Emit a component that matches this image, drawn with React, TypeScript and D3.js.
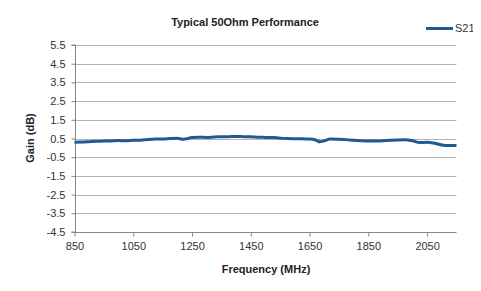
import { useEffect, useRef } from 'react';
import * as d3 from 'd3';

const freqs = [
  850, 875, 900, 925, 950, 975, 1000, 1025, 1050, 1075, 1100, 1125, 1150, 1175, 1200, 1220, 1250, 1275,
  1300, 1325, 1350, 1375, 1400, 1425, 1450, 1475, 1500, 1525, 1550, 1575, 1600, 1625, 1650, 1670, 1685,
  1700, 1720, 1750, 1775, 1800, 1825, 1850, 1875, 1900, 1925, 1950, 1975, 2000, 2025, 2050, 2075, 2100,
  2125, 2150,
];
const gains = [
  0.3, 0.31, 0.33, 0.35, 0.36, 0.37, 0.39, 0.38, 0.4, 0.41, 0.45, 0.47, 0.47, 0.5, 0.52, 0.46, 0.55, 0.57,
  0.56, 0.58, 0.59, 0.6, 0.61, 0.6, 0.59, 0.57, 0.56, 0.55, 0.52, 0.5, 0.49, 0.48, 0.47, 0.42, 0.32, 0.38,
  0.47, 0.46, 0.44, 0.4, 0.38, 0.37, 0.36, 0.38, 0.4, 0.42, 0.43, 0.38, 0.28, 0.3, 0.25, 0.15, 0.12, 0.12,
];
const xTicks = [850, 1050, 1250, 1450, 1650, 1850, 2050];
const yTicks = [5.5, 4.5, 3.5, 2.5, 1.5, 0.5, -0.5, -1.5, -2.5, -3.5, -4.5];
const seriesName = 'S21';

const App = () => {
  const ref = useRef<SVGSVGElement>(null);

  useEffect(() => {
    if (!ref.current) return;
    const svg = d3.select(ref.current);
    svg.selectAll('*').remove();

    const left = 74.5;
    const right = 456.5;
    const top = 45;
    const bottom = 232;
    const font = "'Liberation Sans', Arial, sans-serif";

    const x = d3.scaleLinear().domain([850, 2150]).range([left, right]);
    const y = d3.scaleLinear().domain([-4.5, 5.5]).range([bottom, top]);

    // outer border (right edge runs off the picture)
    svg
      .append('rect')
      .attr('x', 5.5)
      .attr('y', 4.5)
      .attr('width', 490)
      .attr('height', 285)
      .attr('fill', '#fff')
      .attr('stroke', '#d0d0d0');

    // gridlines
    svg
      .append('g')
      .selectAll('line')
      .data(yTicks.filter((d) => d !== -4.5))
      .join('line')
      .attr('x1', left)
      .attr('x2', right)
      .attr('y1', (d) => Math.round(y(d)) + 0.5)
      .attr('y2', (d) => Math.round(y(d)) + 0.5)
      .attr('stroke', '#b3b3b3');

    // y axis
    const yAxis = d3
      .axisLeft(y)
      .tickValues(yTicks)
      .tickSize(4)
      .tickPadding(6)
      .tickFormat((d) => String(d));
    const gy = svg.append('g').attr('transform', `translate(${Math.round(left) + 0.5},0)`).call(yAxis);
    gy.select('.domain').attr('stroke', '#868686').attr('d', `M-4,${y(-4.5)}H0V${y(5.5)}H-4`);
    gy.selectAll('line').attr('stroke', '#868686');
    gy.selectAll('text').attr('font-family', font).attr('font-size', 11).attr('fill', '#333');

    // x axis
    const xAxis = d3
      .axisBottom(x)
      .tickValues(xTicks)
      .tickSize(4)
      .tickPadding(6)
      .tickFormat((d) => String(d));
    const gx = svg.append('g').attr('transform', `translate(0,${Math.round(bottom) + 0.5})`).call(xAxis);
    gx.select('.domain').attr('stroke', '#868686').attr('d', `M${left},0H${right}`);
    gx.selectAll('line').attr('stroke', '#868686');
    gx.selectAll('text').attr('font-family', font).attr('font-size', 11).attr('fill', '#333');

    // series line
    const line = d3
      .line<number>()
      .x((_, i) => x(freqs[i]))
      .y((d) => y(d))
      .curve(d3.curveMonotoneX);
    svg
      .append('path')
      .datum(gains)
      .attr('fill', 'none')
      .attr('stroke', '#1f5a92')
      .attr('stroke-width', 3)
      .attr('stroke-linejoin', 'round')
      .attr('d', line);

    // title
    svg
      .append('text')
      .attr('x', 245)
      .attr('y', 26)
      .attr('text-anchor', 'middle')
      .attr('font-family', font)
      .attr('font-size', 11)
      .attr('font-weight', 'bold')
      .attr('fill', '#222')
      .text('Typical 50Ohm Performance');

    // axis titles
    svg
      .append('text')
      .attr('x', 266)
      .attr('y', 273)
      .attr('text-anchor', 'middle')
      .attr('font-family', font)
      .attr('font-size', 11)
      .attr('font-weight', 'bold')
      .attr('fill', '#222')
      .text('Frequency (MHz)');
    svg
      .append('text')
      .attr('transform', `translate(34,138) rotate(-90)`)
      .attr('text-anchor', 'middle')
      .attr('font-family', font)
      .attr('font-size', 11)
      .attr('font-weight', 'bold')
      .attr('fill', '#222')
      .text('Gain (dB)');

    // legend
    svg
      .append('line')
      .attr('x1', 426)
      .attr('x2', 453)
      .attr('y1', 28.5)
      .attr('y2', 28.5)
      .attr('stroke', '#1f5a92')
      .attr('stroke-width', 3);
    svg
      .append('text')
      .attr('x', 455)
      .attr('y', 32)
      .attr('font-family', font)
      .attr('font-size', 11)
      .attr('fill', '#333')
      .text(seriesName);
  }, []);

  return (
    <div style={{ margin: -8 }}>
      <svg ref={ref} width={481} height={291} style={{ display: 'block' }} />
    </div>
  );
};

export default App;
